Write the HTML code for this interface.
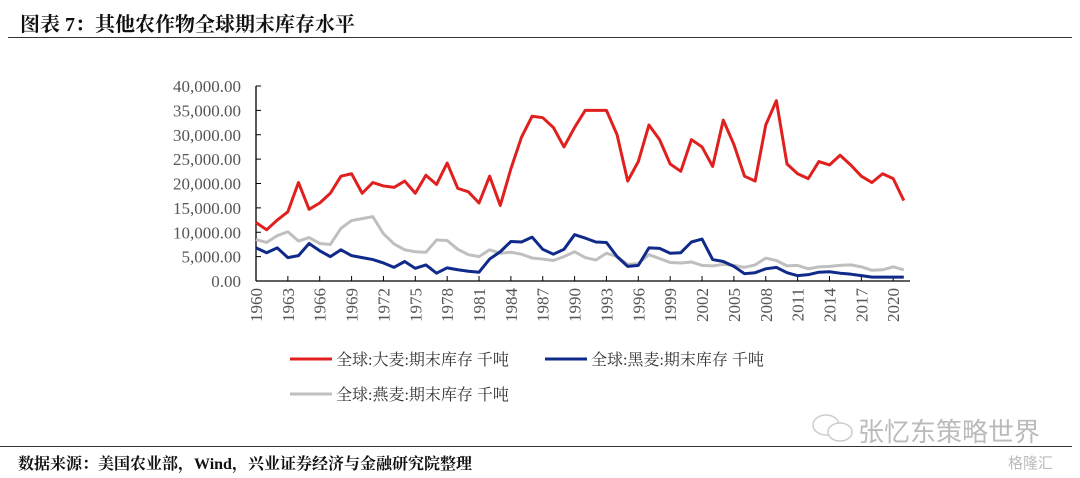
<!DOCTYPE html>
<html><head><meta charset="utf-8"><style>
body{margin:0;width:1080px;height:478px;background:#fff;overflow:hidden;position:relative;font-family:"Liberation Serif","Noto Serif CJK SC",serif}
.t{position:absolute;white-space:nowrap}
</style></head><body>
<div class="t" style="left:20px;top:8px;font-size:20px;font-weight:bold;color:#111">图表 7：其他农作物全球期末库存水平</div>
<div style="position:absolute;left:8px;top:37px;width:1064px;height:1px;background:#333"></div>
<svg id="c" width="1080" height="478" style="position:absolute;left:0;top:0"></svg>
<div style="position:absolute;left:0;top:446px;width:1072px;height:1px;background:#333"></div>
<div class="t" style="left:18px;top:451px;font-size:16px;font-weight:bold;color:#111">数据来源：美国农业部，Wind，兴业证券经济与金融研究院整理</div>
<div class="t" style="left:858px;top:412px;font-size:26px;color:#bbb;font-family:'Noto Sans CJK SC',sans-serif">张忆东策略世界</div>
<svg class="t" style="left:810px;top:412px" width="46" height="34"><ellipse cx="16" cy="13" rx="13" ry="10" fill="none" stroke="#ccc" stroke-width="1.5"/><ellipse cx="30" cy="20" rx="12" ry="9" fill="#fff" stroke="#ccc" stroke-width="1.5"/></svg>
<div class="t" style="left:1008px;top:452px;font-size:15px;color:#bbb;font-family:'Noto Sans CJK SC',sans-serif">格隆汇</div>
<script>
const years=[];for(let y=1960;y<=2021;y++)years.push(y);
const barley=[12000,10500,12500,14200,20200,14700,16000,18000,21500,22000,18000,20200,19500,19200,20500,18000,21700,19800,24200,19000,18300,16000,21500,15500,23000,29500,33800,33500,31500,27500,31500,35000,35000,35000,30000,20500,24500,32000,29000,24000,22500,29000,27500,23500,33000,28000,21500,20500,32000,37000,24000,22000,21000,24500,23800,25800,23800,21500,20200,22000,21000,16500];
const blackBarley=[6800,5800,6800,4800,5200,7700,6200,5000,6400,5200,4800,4400,3700,2800,4000,2600,3300,1600,2700,2300,2000,1800,4500,6000,8100,8000,9000,6500,5500,6500,9500,8800,8000,7900,5000,3000,3200,6800,6700,5700,5800,8000,8600,4400,4000,3000,1500,1700,2500,2800,1700,1100,1300,1800,1900,1600,1400,1100,800,800,800,800];
const oats=[8500,7900,9300,10100,8200,8900,7700,7500,10800,12400,12800,13200,9700,7600,6400,6000,5900,8400,8300,6500,5400,5000,6400,5700,5900,5500,4700,4500,4200,5000,6000,4800,4300,5700,5000,3400,3600,5400,4600,3800,3700,3900,3200,3100,3400,3200,2800,3300,4700,4200,3100,3200,2500,2900,3000,3200,3300,2900,2200,2300,2900,2300];
const yTicks=[0,5000,10000,15000,20000,25000,30000,35000,40000];
const tickYears=[1960,1963,1966,1969,1972,1975,1978,1981,1984,1987,1990,1993,1996,1999,2002,2005,2008,2011,2014,2017,2020];
const svg=document.getElementById('c');const NS='http://www.w3.org/2000/svg';
const X=y=>256+(y-1960)*10.62, Y=v=>281-v/40000*195;
function mk(t,a){const e=document.createElementNS(NS,t);for(const k in a)e.setAttribute(k,a[k]);svg.appendChild(e);return e;}
let e=mk('line',{x1:256,y1:86,x2:256,y2:281,stroke:'#000','stroke-width':1.3});

e=mk('line',{x1:256,y1:281,x2:910,y2:281,stroke:'#000','stroke-width':1.3});

yTicks.forEach(v=>{mk('line',{x1:256,y1:Y(v),x2:261,y2:Y(v),stroke:'#000'});
const t=mk('text',{x:241,y:Y(v)+6,'text-anchor':'end','font-size':17,fill:'#555','font-family':'Liberation Serif'});t.textContent=v.toLocaleString('en-US',{minimumFractionDigits:2});
});
tickYears.forEach(y=>{mk('line',{x1:X(y),y1:281,x2:X(y),y2:276,stroke:'#000'});
const t=mk('text',{x:0,y:0,'text-anchor':'end','font-size':17,fill:'#555','font-family':'Liberation Serif',transform:`translate(${X(y)+6},${288}) rotate(-90)`});t.textContent=y;
});
function line(d,c,n){const p=mk('polyline',{points:d.map((v,i)=>X(years[i])+','+Y(v)).join(' '),fill:'none',stroke:c,'stroke-width':3,'stroke-linejoin':'round'});
}
line(oats,'#bfbfbf','series-oats');line(blackBarley,'#102a8a','series-black-barley');line(barley,'#e0201f','series-barley');
function leg(x,y,c,txt,n){const g=mk('g',{});
const l=document.createElementNS(NS,'line');[['x1',x],['y1',y],['x2',x+42],['y2',y],['stroke',c],['stroke-width',3]].forEach(a=>l.setAttribute(a[0],a[1]));g.appendChild(l);
const t=document.createElementNS(NS,'text');t.setAttribute('x',x+46);t.setAttribute('y',y+6);t.setAttribute('font-size',16);t.setAttribute('fill','#333');t.setAttribute('font-family','Liberation Serif, Noto Serif CJK SC, serif');t.textContent=txt;g.appendChild(t);}
leg(290,359,'#e0201f','全球:大麦:期末库存 千吨','legend-barley');
leg(545,359,'#102a8a','全球:黑麦:期末库存 千吨','legend-black-barley');
leg(290,394,'#bfbfbf','全球:燕麦:期末库存 千吨','legend-oats');
</script>
</body></html>
